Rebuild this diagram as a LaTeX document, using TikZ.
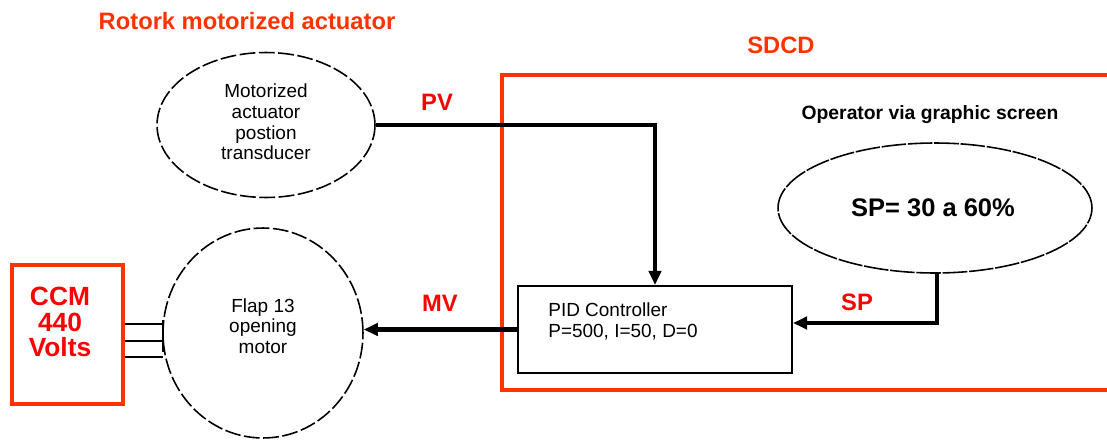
\documentclass[tikz,border=0pt]{standalone}
\usepackage{fontspec}
\setmainfont{Liberation Sans}
\usetikzlibrary{shapes.geometric,arrows.meta}
\definecolor{ored}{RGB}{255,51,0}
\definecolor{lred}{RGB}{255,0,0}
\tikzset{
  redtitle/.style={text=ored,font=\fontsize{13.5}{15}\selectfont\bfseries,inner sep=0pt},
  redlabel/.style={text=lred,font=\fontsize{13.5}{15}\selectfont\bfseries,inner sep=0pt},
  dashell/.style={ellipse,draw,line width=0.9pt,dash pattern=on 9pt off 2pt,inner sep=0pt},
  conn/.style={line width=2.3pt,-{Triangle[length=8pt,width=7pt]}},
  plain/.style={line width=2.3pt},
  thinline/.style={line width=1.2pt},
  bodytext/.style={font=\fontsize{10.8}{11.7}\selectfont,align=center,inner sep=0pt},
}
\begin{document}
\begin{tikzpicture}[x=0.02cm,y=-0.02cm]
\useasboundingbox (0,0) rectangle (1107,440);
% titles
\node[redtitle] (t1) at (247,21) {Rotork motorized actuator};
\node[redtitle] (t2) at (781,45) {SDCD};
% SDCD frame
\draw[ored,line width=2.8pt] (1120,75) -- (502,75) -- (502,390) -- (1120,390);
% transducer ellipse
\node[dashell,minimum width=4.36cm,minimum height=2.9cm] (trans) at (266,125) {};
\node[bodytext] (transtext) at (266,122) {Motorized\\actuator\\postion\\transducer};
% motor circle
\node[dashell,minimum width=4.0cm,minimum height=4.2cm] (motor) at (263,333) {};
\node[bodytext] (motortext) at (263,326) {Flap 13\\opening\\motor};
% CCM box
\node[draw=ored,line width=2.3pt,minimum width=2.22cm,minimum height=2.78cm,inner sep=0pt] (ccm) at (67.5,334.5) {};
\node[text=lred,font=\fontsize{15}{14.5}\selectfont\bfseries,align=center,inner sep=0pt] (ccmtext) at (60,322) {CCM\\440\\Volts};
% three wires
\coordinate (w1) at (163,324);
\coordinate (w2) at (163,341);
\coordinate (w3) at (163,357);
\coordinate (b1) at (163,320);
\coordinate (b2) at (163,352);
\draw[thinline] (ccm.east |- w1) -- (w1);
\draw[thinline] (ccm.east |- w2) -- (w2);
\draw[thinline] (ccm.east |- w3) -- (w3);
\draw[thinline] (b1) -- (b2);
% PID box
\node[draw,line width=1.2pt,minimum width=5.48cm,minimum height=1.74cm,inner sep=0pt] (pid) at (655,329.5) {};
\node[font=\fontsize{10.8}{12}\selectfont,align=left,anchor=north west,inner sep=0pt] (pidtext) at (548,302) {PID Controller\\P=500, I=50, D=0};
% SP ellipse
\node[ellipse,draw,line width=0.9pt,dash pattern=on 14pt off 1pt,minimum width=6.28cm,minimum height=2.6cm,inner sep=0pt] (spell) at (935,208) {};
\node[font=\fontsize{14.5}{16}\selectfont\bfseries,inner sep=0pt] (sptext) at (933,208) {SP= 30 a 60\%};
\node[font=\fontsize{11}{13}\selectfont\bfseries,inner sep=0pt] (oper) at (930,115) {Operator via graphic screen};
% connectors
\coordinate (pvc) at (655,125);
\draw[conn] (trans.east) -- (pvc) -- (pid.north);
\draw[conn] (pid.west) -- (pid.west -| motor.east);
\coordinate (spc) at (937,323);
\draw[conn] (spell.south -| spc) -- (spc) -- (spc -| pid.east);
% labels
\node[redlabel] (pv) at (437,102) {PV};
\node[redlabel] (mv) at (440,303) {MV};
\node[redlabel] (sp) at (857,302) {SP};
\end{tikzpicture}
\end{document}
